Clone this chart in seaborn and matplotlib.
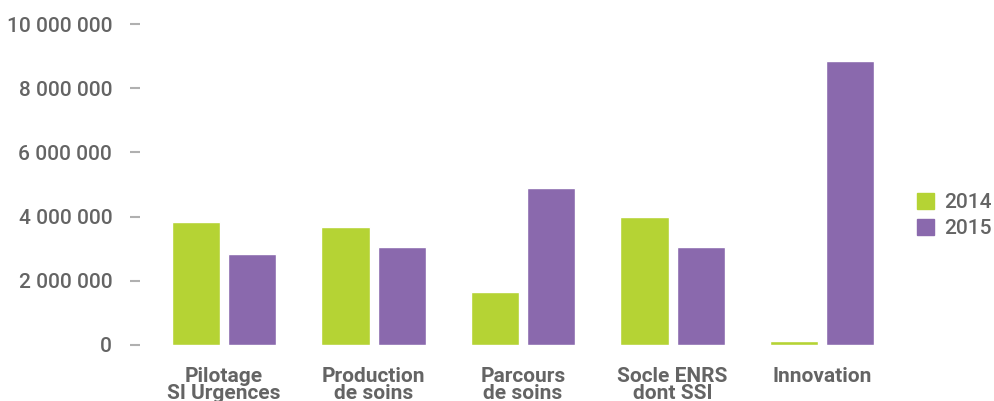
import matplotlib
matplotlib.use("Agg")
import matplotlib.pyplot as plt
import matplotlib.ticker as mticker
import pandas as pd
import seaborn as sns

# Budget par axe (euros)
postes = ["Pilotage\nSI Urgences", "Production\nde soins", "Parcours\nde soins",
          "Socle ENRS\ndont SSI", "Innovation"]
annees = ["2014", "2015"]
montants_2014 = [3840000, 3690000, 1660000, 4000000, 110000]
montants_2015 = [2840000, 3060000, 4900000, 3060000, 8840000]
yticks = [0, 2000000, 4000000, 6000000, 8000000, 10000000]

couleurs = {"2014": "#b5d334", "2015": "#8a69ad"}
gris_texte = "#646464"

df = pd.DataFrame({
    "poste": postes * 2,
    "annee": ["2014"] * len(postes) + ["2015"] * len(postes),
    "montant": montants_2014 + montants_2015,
})

sns.set_theme(style="white")
plt.rcParams["font.family"] = ["Roboto", "DejaVu Sans"]

fig = plt.figure(figsize=(9.95, 4.01), dpi=100)
ax = fig.add_axes([0.15, 0.1397, 0.7513, 0.8004])

sns.barplot(data=df, x="poste", y="montant", hue="annee", hue_order=annees,
            order=postes, palette=couleurs, saturation=1, width=0.75, gap=0.143,
            ax=ax, legend=True)

ax.set_ylim(0, 10000000)
ax.set_xlim(-0.5, len(postes) - 0.5)
ax.set_yticks(yticks)
ax.yaxis.set_major_formatter(
    mticker.FuncFormatter(lambda v, _: f"{int(v):,}".replace(",", " ")))
ax.set_xlabel("")
ax.set_ylabel("")

for s in ["top", "right", "bottom", "left"]:
    ax.spines[s].set_visible(False)
ax.spines["left"].set_position(("outward", 6.5))

ax.tick_params(axis="y", left=True, length=7.2, width=1.5, color="#b0b0b0",
               pad=13, labelsize=15, labelcolor=gris_texte)
ax.tick_params(axis="x", bottom=False, length=0, pad=15.5, labelsize=15,
               labelcolor=gris_texte)
for lab in ax.get_xticklabels():
    lab.set_fontweight("bold")
    lab.set_linespacing(0.92)
    lab.set_verticalalignment("top")
for lab in ax.get_yticklabels():
    lab.set_fontweight("medium")

ax.get_legend().remove()
handles = [plt.Rectangle((0, 0), 1, 1, color=couleurs[a]) for a in annees]
leg = fig.legend(handles, annees, loc="center left",
                 bbox_to_anchor=(917 / 995, 1 - 215.5 / 401),
                 bbox_transform=fig.transFigure, frameon=False,
                 fontsize=15, handlelength=0.82, handleheight=0.82,
                 handletextpad=0.5, labelspacing=0.35, borderpad=0,
                 borderaxespad=0)
for t in leg.get_texts():
    t.set_color(gris_texte)
    t.set_fontweight("medium")

fig.savefig("out.png", dpi=100)
